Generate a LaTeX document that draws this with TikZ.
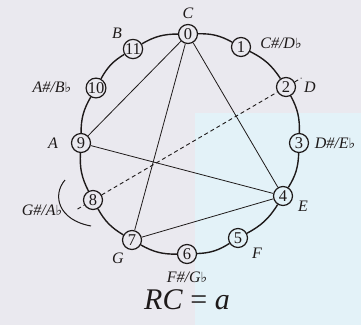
\documentclass[tikz,border=0pt]{standalone}
\usepackage{fontspec}
\setmainfont{Liberation Serif}
\newfontfamily\symfont{DejaVu Sans}
\usetikzlibrary{calc}
\newcommand{\myflat}{{\symfont\fontsize{14}{14}\selectfont ♭}}
\definecolor{bgA}{HTML}{EAE9EF}
\definecolor{bgB}{HTML}{E3F2F8}
\definecolor{ink}{HTML}{1E1A1A}
\begin{document}
\begin{tikzpicture}[x=1pt,y=-1pt,
  pc/.style={circle,draw=ink,line width=1.2pt,minimum size=19pt,inner sep=0pt,
    font=\fontsize{16.5}{16.5}\selectfont,text=ink},
  lab/.style={font=\fontsize{16}{16}\selectfont\itshape,text=ink,inner sep=0pt},
  ring/.style={draw=ink,line width=1.4pt},
  chord/.style={draw=ink,line width=0.8pt},
  dashline/.style={draw=ink,line width=0.9pt,dash pattern=on 4pt off 3pt}]
\useasboundingbox (0,0) rectangle (361,325);
\fill[bgA] (0,0) rectangle (361,325);
\fill[bgB] (195,113) rectangle (361,325);
% pitch-class nodes
\node[pc] (n0) at (188,34) {0};
\node[pc] (n1) at (241,47) {1};
\node[pc] (n2) at (286,87) {2};
\node[pc] (n3) at (299,143) {3};
\node[pc] (n4) at (283,196) {4};
\node[pc] (n5) at (238,238) {5};
\node[pc] (n6) at (187,254) {6};
\node[pc] (n7) at (132,240) {7};
\node[pc] (n8) at (93,200) {8};
\node[pc] (n9) at (81,143) {9};
\node[pc] (n10) at (96,88) {10};
\node[pc] (n11) at (133,49) {11};
% ring
\foreach \a/\b in {0/1,1/2,2/3,3/4,4/5,5/6,6/7,7/8,8/9,9/10,10/11,11/0}
  \draw[ring] (n\a) to[bend left=15] (n\b);
% chords
\draw[chord] (n0) -- (n9);
\draw[chord] (n0) -- (n7);
\draw[chord] (n0) -- (n4);
\draw[chord] (n9) -- (n4);
\draw[chord] (n7) -- (n4);
% dashed axis
\coordinate (d1) at ($(n8)!-18pt!(n2)$);
\coordinate (d2) at ($(n2)!-18pt!(n8)$);
\draw[dashline] (d1) -- (n8);
\draw[dashline] (n8) -- (n2);
\draw[dashline] (n2) -- (d2);
% reflection arc
\draw[chord,line width=1pt] (65,180) .. controls (52,195) and (58,220) .. (91,226);
% labels
\node[lab] (lC) at (188,13) {C};
\node[lab] (lB) at (117,33) {B};
\node[lab] (lCs) at (281,43) {C\#/D\myflat};
\node[lab] (lD) at (310,87) {D};
\node[lab] (lDs) at (335,143) {D\#/E\myflat};
\node[lab] (lE) at (303,206) {E};
\node[lab] (lF) at (257,253) {F};
\node[lab] (lFs) at (187,277) {F\#/G\myflat};
\node[lab] (lG) at (118,258) {G};
\node[lab] (lGs) at (42,210) {G\#/A\myflat};
\node[lab] (lA) at (53,143) {A};
\node[lab] (lAs) at (52,87) {A\#/B\myflat};
\node[font=\fontsize{30}{30}\selectfont,text=ink,inner sep=0pt] (title) at (187,300) {\textit{RC} = \textit{a}};
\end{tikzpicture}
\end{document}
